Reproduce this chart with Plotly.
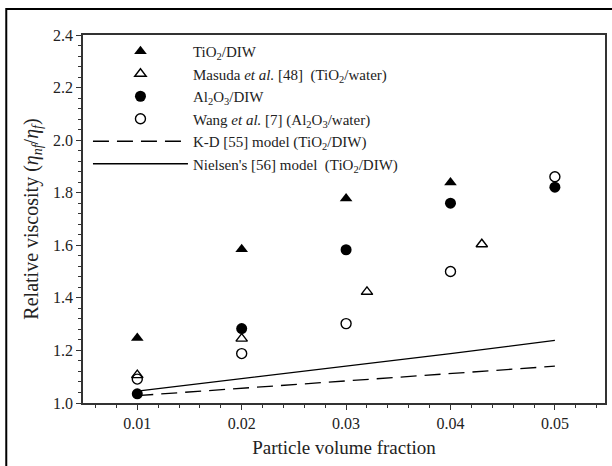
import plotly.graph_objects as go

# ---- data ----
phi = [0.01, 0.02, 0.03, 0.04, 0.05]
tio2_diw_x = [0.01, 0.02, 0.03, 0.04]
tio2_diw_y = [1.247, 1.585, 1.778, 1.839]
masuda_x = [0.01, 0.02, 0.032, 0.043]
masuda_y = [1.106, 1.245, 1.423, 1.604]
al2o3_diw_y = [1.035, 1.283, 1.583, 1.760, 1.821]
wang_y = [1.091, 1.188, 1.302, 1.500, 1.861]
kd_model_y = [1.028, 1.056, 1.082, 1.112, 1.140]
nielsen_model_y = [1.045, 1.092, 1.139, 1.188, 1.238]

names = [
    "TiO<sub>2</sub>/DIW",
    "Masuda <i>et al.</i> [48]&nbsp; (TiO<sub>2</sub>/water)",
    "Al<sub>2</sub>O<sub>3</sub>/DIW",
    "Wang <i>et al.</i> [7] (Al<sub>2</sub>O<sub>3</sub>/water)",
    "K-D [55] model (TiO<sub>2</sub>/DIW)",
    "Nielsen's [56] model&nbsp; (TiO<sub>2</sub>/DIW)",
]

FONT = "Liberation Serif, Times New Roman, serif"

fig = go.Figure()
fig.add_trace(go.Scatter(x=tio2_diw_x, y=tio2_diw_y, mode="markers", name=names[0],
                         marker=dict(symbol="triangle-up", size=11, color="black")))
fig.add_trace(go.Scatter(x=masuda_x, y=masuda_y, mode="markers", name=names[1],
                         marker=dict(symbol="triangle-up-open", size=10, color="black",
                                     line=dict(width=1.4, color="black"))))
fig.add_trace(go.Scatter(x=phi, y=al2o3_diw_y, mode="markers", name=names[2],
                         marker=dict(symbol="circle", size=11, color="black")))
fig.add_trace(go.Scatter(x=phi, y=wang_y, mode="markers", name=names[3],
                         marker=dict(symbol="circle-open", size=10, color="black",
                                     line=dict(width=1.4, color="black"))))
fig.add_trace(go.Scatter(x=phi, y=kd_model_y, mode="lines", name=names[4],
                         line=dict(color="black", width=1.3, dash="16px,8px")))
fig.add_trace(go.Scatter(x=phi, y=nielsen_model_y, mode="lines", name=names[5],
                         line=dict(color="black", width=1.3)))

axis_common = dict(
    showline=True, linecolor="#333333", linewidth=1.5, mirror=True,
    ticks="outside", ticklen=5, tickwidth=1, tickcolor="#333333",
    showgrid=False, zeroline=False,
    tickfont=dict(family=FONT, size=16, color="#222222"),
)

fig.update_xaxes(
    range=[0.0048, 0.0548], tickvals=phi, ticktext=["0.01", "0.02", "0.03", "0.04", "0.05"],
    minor=dict(dtick=0.002, tick0=0.0, ticks="outside", ticklen=3, tickcolor="#333333", showgrid=False),
    title=dict(text="Particle volume fraction", font=dict(family=FONT, size=19, color="#222222"), standoff=10),
    **axis_common,
)
fig.update_yaxes(
    range=[1.0, 2.4], dtick=0.2, tick0=1.0, tickformat=".1f",
    minor=dict(dtick=0.04, tick0=1.0, ticks="outside", ticklen=3, tickcolor="#333333", showgrid=False),
    title=dict(text="Relative viscosity (<i>η<sub>nf</sub></i>/<i>η<sub>f</sub></i>)",
               font=dict(family=FONT, size=20, color="#222222"), standoff=9),
    **axis_common,
)

fig.update_layout(
    width=612, height=466,
    margin=dict(l=83, r=5, t=35, b=63),
    paper_bgcolor="white", plot_bgcolor="white",
    font=dict(family=FONT, color="#222222"),
    showlegend=True,
    legend=dict(x=0.0095, y=1.0, xanchor="left", yanchor="top",
                bgcolor="rgba(0,0,0,0)", borderwidth=0,
                font=dict(family=FONT, size=15, color="#222222"),
                itemwidth=95, tracegroupgap=0),
    shapes=[dict(type="rect", xref="paper", yref="paper",
                 x0=-0.147, x1=1.2, y0=-0.4, y1=1.0707,
                 line=dict(color="black", width=2), layer="below")],
)

fig.write_html("out.html")
